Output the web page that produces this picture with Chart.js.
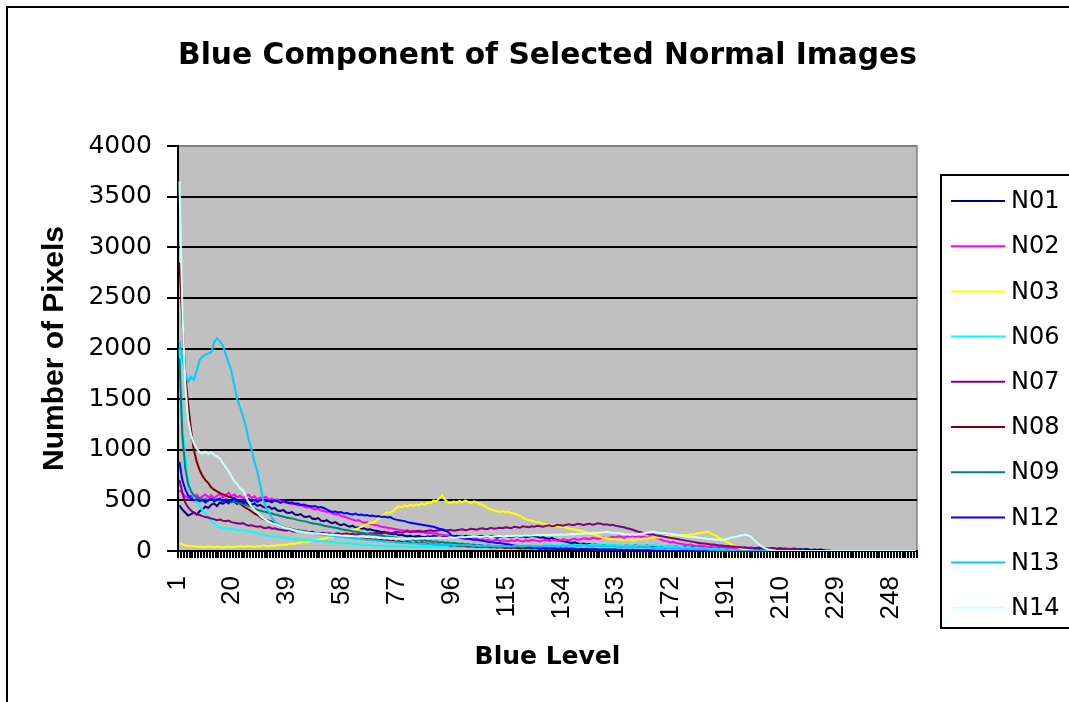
<!DOCTYPE html>
<html>
<head>
<meta charset="utf-8">
<title>Blue Component of Selected Normal Images</title>
<script src="https://cdn.jsdelivr.net/npm/chart.js@4.4.0/dist/chart.umd.min.js"></script>
<style>
    html, body { margin: 0; padding: 0; background: #fff; overflow: hidden; }
</style>
</head>
<body>
<canvas id="blueChart" width="1069" height="702"></canvas>
<script>
// blue levels 1..256 (categories) and the levels that get a label
var levels = Array.from({length: 256}, function (_, i) { return String(i + 1); });
var tickLabels = ['1', '20', '39', '58', '77', '96', '115', '134', '153', '172', '191', '210', '229', '248'];

var seriesNames = ['N01', 'N02', 'N03', 'N06', 'N07', 'N08', 'N09', 'N12', 'N13', 'N14'];
var seriesColors = ['#000080', '#ff00ff', '#ffff00', '#00ffff', '#800080', '#800000', '#008080', '#0000ff', '#00ccff', '#ccffff'];

var n01 = [
    450, 410, 380, 350, 365, 380, 360, 395, 410, 440, 425, 455, 470, 445, 480, 465,
    490, 470, 500, 485, 465, 495, 470, 480, 460, 455, 470, 445, 455, 435, 425, 440,
    415, 425, 400, 395, 405, 380, 375, 385, 360, 355, 365, 340, 335, 345, 320, 315,
    325, 300, 295, 305, 285, 275, 285, 265, 255, 265, 250, 240, 250, 230, 235, 220,
    225, 210, 215, 205, 200, 195, 185, 190, 175, 170, 165, 170, 155, 160, 150, 145,
    150, 140, 145, 150, 140, 135, 145, 140, 150, 145, 140, 135, 145, 150, 140, 145,
    150, 145, 140, 150, 145, 140, 135, 140, 145, 150, 140, 135, 145, 140, 130, 140,
    145, 150, 140, 135, 145, 150, 140, 145, 135, 140, 150, 145, 140, 130, 135, 125,
    120, 130, 115, 110, 100, 95, 90, 85, 80, 85, 75, 70, 75, 65, 70, 60,
    65, 60, 55, 60, 50, 55, 60, 50, 55, 45, 50, 55, 45, 50, 55, 50,
    45, 50, 55, 45, 50, 40, 45, 50, 40, 45, 50, 40, 45, 40, 35, 45,
    40, 35, 40, 45, 35, 40, 35, 30, 40, 35, 30, 35, 40, 30, 35, 30,
    35, 30, 25, 30, 35, 25, 30, 25, 30, 35, 25, 30, 25, 30, 25, 20,
    25, 20, 25, 15, 20, 25, 15, 20, 15, 20, 15, 10, 15, 10, 15, 10,
    5, 5, 0, 0, 0, 0, 0, 0, 0, 0, 0, 0, 0, 0, 0, 0,
    0, 0, 0, 0, 0, 0, 0, 0, 0, 0, 0, 0, 0, 0, 0, 0
];
var n02 = [
    600, 570, 540, 520, 545, 530, 555, 520, 540, 560, 530, 550, 520, 545, 565, 530,
    550, 575, 540, 560, 530, 545, 520, 540, 555, 525, 540, 510, 530, 520, 535, 505,
    520, 500, 510, 490, 495, 475, 480, 460, 470, 450, 455, 440, 430, 435, 420, 410,
    415, 400, 395, 385, 390, 370, 360, 365, 345, 340, 330, 320, 310, 300, 305, 290,
    280, 285, 270, 260, 255, 250, 240, 235, 230, 225, 220, 215, 210, 205, 200, 205,
    195, 200, 190, 185, 190, 180, 175, 180, 170, 175, 165, 160, 155, 150, 145, 140,
    135, 140, 130, 125, 130, 120, 115, 120, 110, 115, 105, 110, 100, 105, 110, 100,
    105, 100, 95, 105, 100, 110, 100, 95, 105, 100, 110, 105, 100, 95, 105, 110,
    100, 105, 110, 100, 105, 115, 110, 105, 115, 120, 110, 115, 125, 120, 115, 130,
    125, 120, 130, 135, 125, 130, 140, 135, 145, 140, 130, 145, 140, 150, 140, 145,
    135, 140, 130, 135, 125, 130, 120, 110, 100, 95, 85, 90, 80, 75, 70, 65,
    60, 65, 55, 50, 55, 45, 50, 40, 45, 40, 35, 40, 35, 30, 35, 30,
    30, 25, 30, 25, 30, 25, 20, 25, 20, 25, 20, 25, 30, 25, 20, 25,
    30, 25, 20, 25, 20, 15, 10, 5, 5, 0, 0, 0, 0, 0, 0, 0,
    0, 0, 0, 0, 0, 0, 0, 0, 0, 0, 0, 0, 0, 0, 0, 0,
    0, 0, 0, 0, 0, 0, 0, 0, 0, 0, 0, 0, 0, 0, 0, 0
];
var n03 = [
    80, 65, 55, 50, 45, 50, 40, 45, 35, 40, 45, 40, 35, 45, 40, 35,
    40, 45, 35, 40, 45, 50, 40, 45, 50, 45, 40, 50, 45, 55, 50, 45,
    55, 50, 60, 55, 65, 60, 70, 75, 70, 80, 85, 90, 85, 95, 100, 105,
    110, 120, 115, 130, 140, 135, 150, 160, 170, 165, 185, 195, 205, 215, 225, 240,
    250, 265, 280, 275, 300, 320, 345, 360, 385, 375, 395, 420, 440, 430, 450, 440,
    455, 445, 460, 450, 470, 455, 480, 470, 500, 490, 520, 550, 505, 480, 470, 490,
    475, 495, 480, 500, 485, 470, 490, 480, 465, 455, 440, 420, 410, 400, 390, 385,
    395, 380, 390, 375, 370, 360, 345, 330, 315, 305, 300, 290, 285, 280, 270, 265,
    260, 255, 250, 245, 240, 235, 230, 220, 215, 210, 205, 200, 190, 185, 175, 165,
    160, 150, 140, 130, 125, 120, 115, 120, 110, 115, 105, 110, 115, 105, 110, 120,
    115, 125, 120, 130, 125, 135, 130, 140, 145, 150, 145, 155, 150, 160, 155, 160,
    155, 165, 160, 170, 175, 180, 185, 190, 175, 160, 150, 130, 115, 100, 85, 70,
    55, 40, 30, 20, 12, 8, 5, 2, 0, 0, 0, 0, 0, 0, 0, 0,
    0, 0, 0, 0, 0, 0, 0, 0, 0, 0, 0, 0, 0, 0, 0, 0,
    0, 0, 0, 0, 0, 0, 0, 0, 0, 0, 0, 0, 0, 0, 0, 0,
    0, 0, 0, 0, 0, 0, 0, 0, 0, 0, 0, 0, 0, 0, 0, 0
];
var n06 = [
    2000, 1250, 950, 700, 600, 540, 480, 440, 405, 370, 330, 300, 270, 245, 235, 230,
    225, 220, 215, 215, 210, 205, 205, 200, 195, 190, 180, 170, 165, 160, 150, 145,
    145, 140, 140, 135, 130, 130, 125, 120, 120, 115, 115, 110, 110, 110, 105, 100,
    100, 100, 95, 95, 90, 90, 85, 85, 80, 75, 80, 75, 70, 75, 70, 65,
    60, 55, 60, 55, 50, 55, 50, 55, 50, 45, 50, 45, 50, 45, 50, 45,
    40, 45, 40, 45, 40, 45, 40, 35, 40, 45, 40, 35, 40, 35, 40, 35,
    40, 35, 40, 45, 40, 35, 40, 45, 40, 35, 40, 45, 40, 45, 50, 45,
    40, 45, 50, 45, 40, 45, 50, 55, 50, 45, 50, 55, 50, 45, 50, 55,
    60, 55, 50, 55, 60, 55, 50, 55, 60, 55, 60, 65, 60, 55, 60, 65,
    60, 65, 60, 55, 60, 65, 60, 55, 60, 55, 50, 55, 60, 55, 50, 55,
    60, 55, 50, 55, 60, 55, 50, 55, 50, 45, 50, 45, 40, 45, 40, 35,
    40, 35, 30, 35, 30, 25, 30, 25, 20, 25, 20, 15, 20, 15, 10, 15,
    10, 5, 5, 0, 0, 0, 0, 0, 0, 0, 0, 0, 0, 0, 0, 0,
    0, 0, 0, 0, 0, 0, 0, 0, 0, 0, 0, 0, 0, 0, 0, 0,
    0, 0, 0, 0, 0, 0, 0, 0, 0, 0, 0, 0, 0, 0, 0, 0,
    0, 0, 0, 0, 0, 0, 0, 0, 0, 0, 0, 0, 0, 0, 0, 0
];
var n07 = [
    700, 580, 480, 430, 400, 380, 365, 355, 345, 335, 330, 320, 315, 305, 310, 300,
    295, 300, 285, 280, 275, 270, 275, 260, 250, 255, 245, 240, 245, 230, 225, 235,
    220, 225, 215, 210, 205, 200, 210, 195, 190, 200, 190, 185, 195, 180, 185, 175,
    180, 175, 180, 170, 175, 165, 170, 175, 165, 170, 175, 165, 170, 160, 165, 170,
    170, 165, 175, 170, 180, 175, 170, 180, 185, 175, 180, 190, 185, 180, 190, 195,
    185, 190, 195, 200, 190, 195, 200, 205, 195, 200, 205, 210, 200, 205, 210, 200,
    205, 210, 215, 205, 210, 220, 215, 210, 220, 225, 215, 220, 230, 220, 225, 230,
    225, 235, 230, 225, 240, 235, 230, 245, 240, 235, 245, 240, 250, 245, 240, 250,
    255, 245, 250, 260, 255, 250, 260, 265, 255, 260, 270, 265, 255, 265, 270, 260,
    265, 275, 270, 260, 265, 255, 260, 250, 245, 240, 235, 225, 220, 210, 200, 190,
    185, 175, 170, 160, 165, 155, 150, 145, 140, 135, 130, 125, 120, 115, 110, 105,
    100, 95, 90, 85, 80, 75, 75, 70, 65, 65, 60, 55, 55, 50, 50, 45,
    45, 40, 40, 35, 35, 30, 35, 30, 30, 25, 30, 25, 25, 30, 25, 20,
    25, 20, 20, 15, 20, 15, 10, 10, 5, 5, 0, 0, 0, 0, 0, 0,
    0, 0, 0, 0, 0, 0, 0, 0, 0, 0, 0, 0, 0, 0, 0, 0,
    0, 0, 0, 0, 0, 0, 0, 0, 0, 0, 0, 0, 0, 0, 0, 0
];
var n08 = [
    2850, 2300, 1750, 1450, 1200, 1000, 880, 800, 740, 700, 670, 630, 605, 590, 575, 560,
    550, 535, 530, 505, 490, 470, 445, 425, 410, 390, 370, 355, 335, 315, 305, 300,
    290, 270, 255, 245, 240, 230, 225, 215, 210, 205, 200, 195, 190, 185, 190, 180,
    175, 170, 165, 170, 160, 155, 150, 155, 145, 140, 145, 135, 130, 135, 125, 120,
    125, 115, 120, 110, 115, 105, 110, 100, 105, 95, 100, 90, 95, 90, 85, 90,
    85, 80, 85, 75, 80, 75, 70, 75, 65, 70, 65, 60, 65, 60, 55, 60,
    55, 50, 55, 50, 45, 50, 45, 40, 45, 40, 45, 40, 35, 40, 35, 40,
    35, 30, 35, 30, 35, 30, 25, 30, 25, 30, 25, 30, 25, 20, 25, 20,
    25, 20, 25, 20, 15, 20, 15, 20, 15, 20, 15, 20, 15, 10, 15, 10,
    15, 10, 15, 10, 15, 10, 5, 10, 5, 10, 5, 10, 5, 5, 10, 5,
    5, 5, 5, 0, 0, 0, 0, 0, 0, 0, 0, 0, 0, 0, 0, 0,
    0, 0, 0, 0, 0, 0, 0, 0, 0, 0, 0, 0, 0, 0, 0, 0,
    0, 0, 0, 0, 0, 0, 0, 0, 0, 0, 0, 0, 0, 0, 0, 0,
    0, 0, 0, 0, 0, 0, 0, 0, 0, 0, 0, 0, 0, 0, 0, 0,
    0, 0, 0, 0, 0, 0, 0, 0, 0, 0, 0, 0, 0, 0, 0, 0,
    0, 0, 0, 0, 0, 0, 0, 0, 0, 0, 0, 0, 0, 0, 0, 0
];
var n09 = [
    1900, 1150, 820, 660, 590, 550, 530, 520, 505, 515, 500, 520, 495, 510, 500, 490,
    505, 495, 480, 490, 475, 470, 460, 455, 445, 440, 420, 405, 400, 390, 385, 375,
    370, 360, 355, 345, 340, 330, 325, 320, 315, 305, 300, 295, 290, 280, 275, 270,
    265, 260, 250, 245, 240, 235, 230, 225, 215, 210, 205, 200, 195, 190, 185, 180,
    175, 170, 165, 160, 160, 155, 150, 145, 140, 140, 135, 130, 125, 120, 115, 110,
    115, 110, 105, 110, 100, 105, 95, 100, 90, 95, 85, 90, 80, 85, 75, 80,
    75, 70, 75, 65, 70, 60, 65, 55, 60, 55, 50, 55, 50, 45, 50, 45,
    50, 45, 40, 45, 40, 45, 40, 35, 40, 35, 40, 35, 30, 35, 30, 35,
    30, 35, 30, 25, 30, 25, 30, 25, 30, 25, 20, 25, 20, 25, 20, 25,
    20, 15, 20, 15, 20, 15, 20, 15, 10, 15, 10, 15, 10, 15, 10, 10,
    10, 5, 10, 5, 10, 5, 5, 5, 5, 0, 0, 0, 0, 0, 0, 0,
    0, 0, 0, 0, 0, 0, 0, 0, 0, 0, 0, 0, 0, 0, 0, 0,
    0, 0, 0, 0, 0, 0, 0, 0, 0, 0, 0, 0, 0, 0, 0, 0,
    0, 0, 0, 0, 0, 0, 0, 0, 0, 0, 0, 0, 0, 0, 0, 0,
    0, 0, 0, 0, 0, 0, 0, 0, 0, 0, 0, 0, 0, 0, 0, 0,
    0, 0, 0, 0, 0, 0, 0, 0, 0, 0, 0, 0, 0, 0, 0, 0
];
var n12 = [
    880, 700, 610, 550, 520, 500, 510, 490, 505, 480, 500, 515, 490, 505, 520, 495,
    510, 490, 500, 525, 495, 505, 480, 500, 515, 490, 505, 485, 500, 510, 490, 495,
    480, 500, 490, 475, 490, 485, 470, 480, 465, 470, 455, 460, 450, 445, 440, 445,
    430, 435, 425, 410, 395, 385, 390, 380, 385, 370, 375, 365, 360, 370, 355, 360,
    350, 355, 345, 350, 340, 345, 335, 340, 330, 335, 320, 310, 305, 300, 295, 285,
    280, 275, 270, 265, 260, 255, 250, 245, 240, 230, 220, 215, 205, 190, 160, 140,
    135, 130, 125, 120, 120, 115, 110, 110, 105, 100, 95, 90, 90, 85, 80, 80,
    75, 70, 65, 60, 55, 50, 45, 45, 40, 40, 35, 35, 30, 35, 30, 30,
    25, 30, 25, 20, 25, 20, 25, 20, 15, 20, 15, 20, 15, 20, 15, 15,
    20, 15, 10, 15, 10, 15, 10, 15, 10, 10, 5, 10, 5, 10, 5, 5,
    5, 5, 5, 5, 0, 0, 0, 0, 0, 0, 0, 0, 0, 0, 0, 0,
    0, 0, 0, 0, 0, 0, 0, 0, 0, 0, 0, 0, 0, 0, 0, 0,
    0, 0, 0, 0, 0, 0, 0, 0, 0, 0, 0, 0, 0, 0, 0, 0,
    0, 0, 0, 0, 0, 0, 0, 0, 0, 0, 0, 0, 0, 0, 0, 0,
    0, 0, 0, 0, 0, 0, 0, 0, 0, 0, 0, 0, 0, 0, 0, 0,
    0, 0, 0, 0, 0, 0, 0, 0, 0, 0, 0, 0, 0, 0, 0, 0
];
var n13 = [
    2080, 1900, 1760, 1670, 1720, 1690, 1780, 1890, 1920, 1940, 1950, 1960, 2060, 2100, 2070, 2030,
    1950, 1860, 1780, 1640, 1500, 1420, 1330, 1230, 1100, 1000, 880, 780, 650, 500, 430, 380,
    330, 290, 270, 255, 240, 230, 225, 215, 210, 200, 195, 190, 185, 180, 175, 170,
    165, 160, 160, 155, 150, 150, 145, 140, 140, 135, 130, 130, 125, 120, 120, 115,
    115, 110, 110, 105, 105, 100, 100, 95, 95, 90, 90, 85, 85, 80, 80, 80,
    75, 80, 75, 70, 75, 70, 65, 70, 65, 70, 65, 60, 65, 60, 65, 60,
    60, 55, 60, 55, 60, 55, 50, 55, 50, 55, 50, 55, 50, 45, 50, 45,
    50, 45, 50, 45, 50, 55, 50, 45, 50, 55, 50, 45, 50, 45, 50, 55,
    50, 55, 50, 45, 50, 55, 50, 55, 60, 55, 50, 55, 60, 55, 50, 55,
    50, 55, 50, 45, 50, 45, 50, 45, 40, 45, 40, 45, 40, 45, 40, 35,
    40, 35, 40, 35, 30, 35, 30, 35, 30, 25, 30, 25, 30, 25, 20, 25,
    20, 25, 20, 15, 20, 15, 20, 15, 10, 15, 10, 10, 5, 10, 5, 5,
    0, 0, 0, 0, 0, 0, 0, 0, 0, 0, 0, 0, 0, 0, 0, 0,
    0, 0, 0, 0, 0, 0, 0, 0, 0, 0, 0, 0, 0, 0, 0, 0,
    0, 0, 0, 0, 0, 0, 0, 0, 0, 0, 0, 0, 0, 0, 0, 0,
    0, 0, 0, 0, 0, 0, 0, 0, 0, 0, 0, 0, 0, 0, 0, 0
];
var n14 = [
    3650, 2400, 1650, 1300, 1150, 1060, 1010, 975, 965, 980, 960, 975, 950, 935, 915, 870,
    830, 790, 740, 690, 660, 620, 600, 540, 480, 440, 405, 380, 345, 325, 305, 290,
    275, 265, 255, 245, 235, 225, 220, 210, 200, 195, 190, 185, 182, 178, 176, 174,
    175, 170, 168, 165, 160, 162, 158, 155, 152, 150, 148, 150, 145, 142, 140, 145,
    140, 138, 135, 140, 135, 132, 130, 128, 130, 125, 128, 122, 125, 120, 122, 118,
    120, 125, 118, 122, 128, 125, 130, 128, 132, 130, 135, 130, 128, 130, 135, 132,
    130, 135, 138, 135, 140, 138, 142, 140, 138, 142, 145, 140, 138, 142, 145, 148,
    145, 150, 148, 145, 150, 152, 148, 150, 155, 150, 152, 155, 158, 155, 160, 158,
    155, 160, 162, 158, 165, 160, 162, 165, 168, 165, 170, 168, 172, 175, 170, 178,
    180, 175, 182, 185, 190, 185, 180, 175, 178, 172, 168, 165, 160, 165, 160, 165,
    170, 175, 180, 185, 190, 185, 180, 178, 175, 172, 170, 165, 160, 155, 150, 145,
    140, 142, 138, 135, 130, 128, 125, 120, 118, 115, 112, 110, 112, 115, 120, 130,
    135, 140, 150, 155, 160, 155, 140, 110, 85, 60, 40, 25, 15, 10, 5, 0,
    0, 0, 0, 0, 0, 0, 0, 0, 0, 0, 0, 0, 0, 0, 0, 0,
    0, 0, 0, 0, 0, 0, 0, 0, 0, 0, 0, 0, 0, 0, 0, 0,
    0, 0, 0, 0, 0, 0, 0, 0, 0, 0, 0, 0, 0, 0, 0, 0
];

var seriesValues = [n01, n02, n03, n06, n07, n08, n09, n12, n13, n14];

// gray plot area, outer frame and the boxed legend (Excel look)
var excelFrame = {
    id: 'excelFrame',
    beforeDraw: function (chart) {
        var ctx = chart.ctx;
        var a = chart.chartArea;
        ctx.save();
        ctx.fillStyle = '#fff';
        ctx.fillRect(0, 0, chart.width, chart.height);
        ctx.strokeStyle = '#000';
        ctx.lineWidth = 2;
        ctx.strokeRect(7, 7, chart.width + 50, chart.height + 50);
        ctx.fillStyle = '#c0c0c0';
        ctx.fillRect(a.left, a.top, a.right - a.left, a.bottom - a.top);
        ctx.strokeStyle = '#808080';
        ctx.lineWidth = 1.5;
        ctx.strokeRect(a.left, a.top, a.right - a.left, a.bottom - a.top);
        ctx.restore();
    },
    afterDraw: function (chart) {
        var ctx = chart.ctx;
        ctx.save();
        ctx.strokeStyle = '#000';
        ctx.lineWidth = 2;
        ctx.strokeRect(941, 175, 200, 453);
        ctx.font = '24px "DejaVu Sans"';
        ctx.textBaseline = 'middle';
        chart.data.datasets.forEach(function (ds, i) {
            var y = 201 + i * 45.2;
            ctx.strokeStyle = ds.borderColor;
            ctx.lineWidth = 2;
            ctx.beginPath();
            ctx.moveTo(951, y);
            ctx.lineTo(1005, y);
            ctx.stroke();
            ctx.fillStyle = '#000';
            ctx.fillText(ds.label, 1011, y + 1);
        });
        ctx.restore();
    }
};

var datasets = seriesNames.map(function (name, i) {
    return {
        label: name,
        data: seriesValues[i],
        borderColor: seriesColors[i],
        backgroundColor: seriesColors[i],
        borderWidth: 2,
        pointRadius: 0,
        tension: 0,
        fill: false,
        order: seriesNames.length - i
    };
});

var blueChart = new Chart(document.getElementById('blueChart'), {
    type: 'line',
    data: {
        labels: levels,
        datasets: datasets
    },
    plugins: [excelFrame],
    options: {
        responsive: false,
        animation: false,
        events: [],
        layout: {
            padding: {left: 8, top: 0, right: 152, bottom: 0}
        },
        plugins: {
            legend: {display: false},
            tooltip: {enabled: false},
            title: {
                display: true,
                fullSize: false,
                text: 'Blue Component of Selected Normal Images',
                color: '#000',
                font: {family: 'DejaVu Sans', size: 30, weight: 'bold'},
                padding: {top: 38, bottom: 72}
            }
        },
        scales: {
            x: {
                type: 'category',
                offset: true,
                grid: {display: true, drawOnChartArea: false, offset: true, tickLength: 7, color: '#000', lineWidth: 2},
                border: {color: '#000', width: 2},
                ticks: {
                    autoSkip: false,
                    minRotation: 90,
                    maxRotation: 90,
                    padding: 18,
                    labelOffset: -2,
                    color: '#000',
                    font: {family: 'Liberation Sans', size: 26},
                    callback: function (value, index) {
                        var lab = levels[index];
                        return tickLabels.indexOf(lab) >= 0 ? lab : '';
                    }
                },
                title: {
                    display: true,
                    text: 'Blue Level',
                    color: '#000',
                    font: {family: 'DejaVu Sans', size: 25, weight: 'bold'},
                    padding: {top: 0, bottom: 30}
                },
                afterFit: function (scale) {
                    scale.height = 151;
                }
            },
            y: {
                min: 0,
                max: 4000,
                ticks: {
                    stepSize: 500,
                    padding: 15,
                    color: '#000',
                    font: {family: 'DejaVu Sans', size: 25},
                    callback: function (value) {
                        return String(value);
                    }
                },
                grid: {
                    color: function (c) { return c.tick && c.tick.value === 4000 ? '#808080' : '#000'; },
                    tickColor: '#000',
                    lineWidth: 2,
                    tickLength: 11
                },
                border: {color: '#000', width: 2},
                title: {
                    display: true,
                    text: 'Number of Pixels',
                    color: '#000',
                    font: {family: 'Liberation Sans', size: 30, weight: 'bold'},
                    padding: {top: 29, bottom: 0}
                },
                afterFit: function (scale) {
                    scale.width = 170;
                }
            }
        }
    }
});
</script>
</body>
</html>
